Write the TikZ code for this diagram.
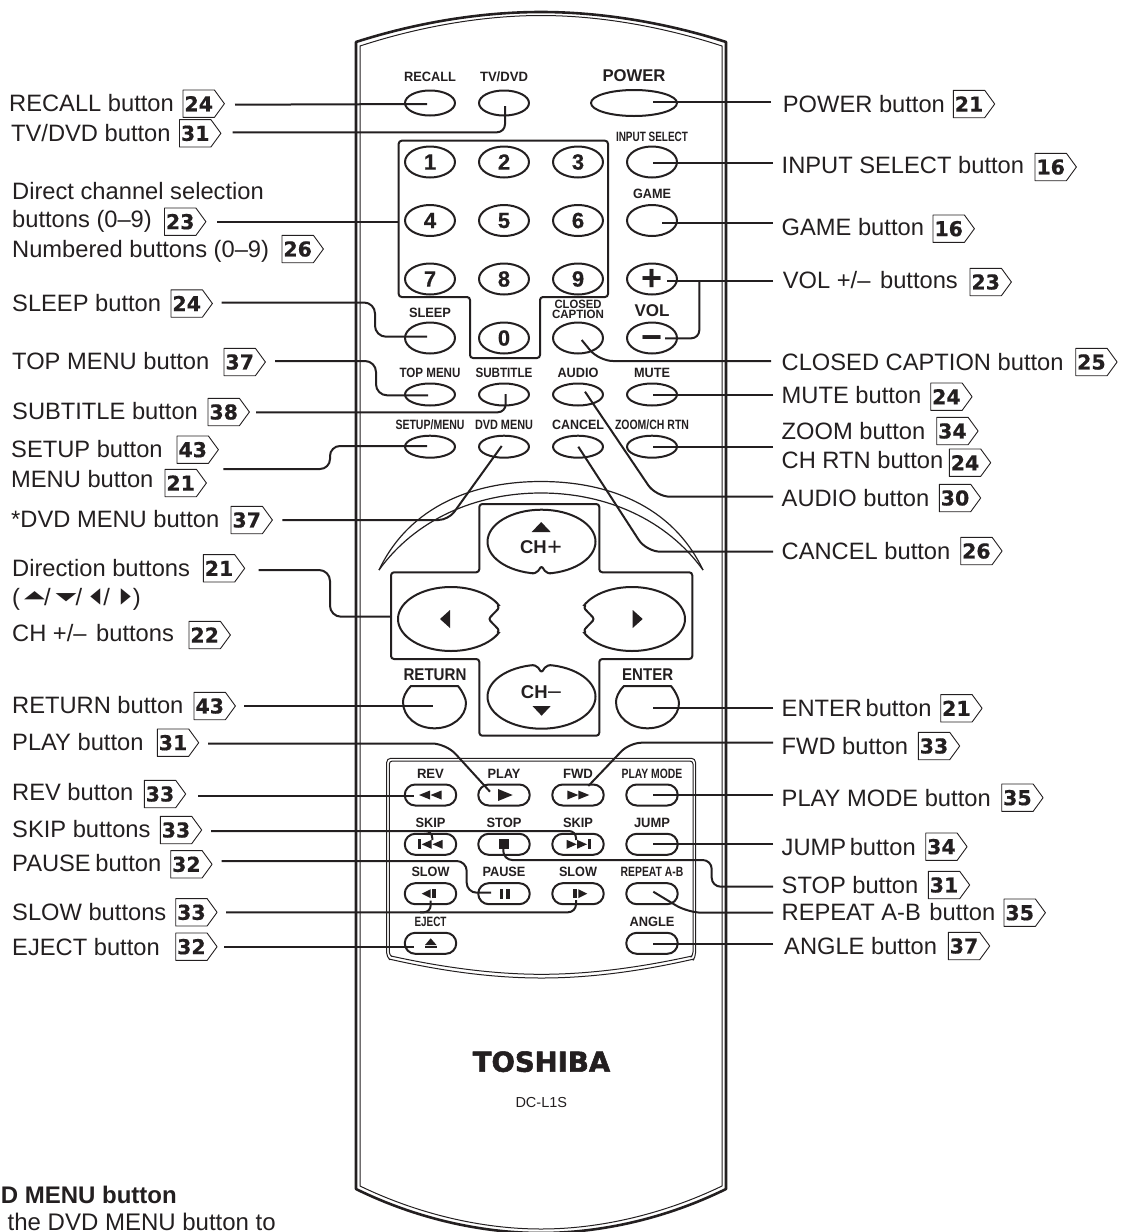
\documentclass[tikz,border=0pt]{standalone}
\usepackage{fontspec}
\usepackage{graphicx}
\usetikzlibrary{shapes.geometric}
\setmainfont{Liberation Sans}
\newfontfamily\dejavu{DejaVu Sans}
\newfontfamily\refbold[FakeBold=0.6]{DejaVu Sans Bold}
\newfontfamily\brandbold[FakeBold=2]{DejaVu Sans Bold}
\newfontfamily\digitbold[FakeBold=0.5]{Liberation Sans Bold}
\definecolor{ink}{HTML}{231F20}
\newcommand\szlabel{\fontsize{23.7}{28}\selectfont}
\newcommand\szref{\refbold\fontsize{20.5}{24}\selectfont}
\newcommand\szsmall{\bfseries\fontsize{13.5}{16}\selectfont}
\newcommand\szsmaller{\bfseries\fontsize{12}{14}\selectfont}
\newcommand\szbig{\bfseries\fontsize{17}{20}\selectfont}
\newcommand\szdigit{\digitbold\fontsize{22}{26}\selectfont}
% label text with baseline given
\newcommand\tx[4]{\node[anchor=base west,inner sep=0pt,text=ink,font=\szlabel] (#1) at (#2,#3) {#4};}
% page reference tag
\newcommand\pg[4]{\node[reftag,anchor=west] (#1) at (#2,#3) {#4};
  \draw[reftagline] (#1.north west) -- (#1.north east) -- ([xshift=10pt]#1.east) -- (#1.south east) -- (#1.south west) -- cycle;}
% small button caption: name, x, y centre of caps, width, text
\newcommand\lb[5]{\node[anchor=base,inner sep=0pt,text=ink,font=\szsmall] (#1) at (#2,{#3+4.9}) {\resizebox{#4pt}{\height}{#5}};}
\newcommand\lbs[5]{\node[anchor=base,inner sep=0pt,text=ink,font=\szsmaller] (#1) at (#2,{#3+4.2}) {\resizebox{#4pt}{\height}{#5}};}
\newcommand\lbb[5]{\node[anchor=base,inner sep=0pt,text=ink,font=\szbig] (#1) at (#2,{#3+6.1}) {\resizebox{#4pt}{\height}{#5}};}
% connector ends
\newcommand\leadends[3]{\coordinate (#1a) at (#2); \coordinate (#1b) at (#3);}
% flat glyph for the direction list
\newcommand\gl[4]{\raisebox{#4pt}{\resizebox*{#2pt}{#3pt}{\raisebox{\depth}{\dejavu #1}}}}
\begin{document}
\begin{tikzpicture}[x=1pt,y=-1pt,line join=round,
  btn/.style={ellipse,draw=ink,line width=2pt,inner sep=0pt,minimum width=50pt,text=ink,font=\szdigit},
  pill/.style={rectangle,draw=ink,line width=2pt,inner sep=0pt,minimum width=51.5pt,minimum height=21pt,rounded corners=10.5pt},
  keyline/.style={draw=ink,line width=2pt},
  bodythick/.style={draw=ink,line width=2.6pt},
  bodythin/.style={draw=ink,line width=1pt},
  arcline/.style={draw=ink,line width=1.2pt},
  lead/.style={draw=ink,line width=2pt},
  sym/.style={fill=ink},
  reftag/.style={minimum width=31pt,minimum height=27pt,inner sep=0pt,text=ink,font=\szref},
  reftagline/.style={draw=ink,line width=.9pt}]
\useasboundingbox (0,0) rectangle (1125,1232);

% --- remote body
\draw[bodythick] (541,12) .. controls (480,12) and (415,23) .. (356,42) -- (356,1189)
  .. controls (415,1218) and (480,1233) .. (541,1233) .. controls (602,1233) and (667,1218) .. (726,1189)
  -- (726,42) .. controls (667,23) and (602,12) .. (541,12) -- cycle;
\draw[bodythin] (360,46) .. controls (418,27) and (482,15.5) .. (541,15.5) .. controls (600,15.5) and (664,27) .. (722,46)
  -- (722,1186) .. controls (664,1214) and (600,1229) .. (541,1229) .. controls (482,1229) and (418,1214) .. (360,1186) -- cycle;

% --- keypad frame
\draw[keyline,rounded corners=3pt] (398.7,140.7) -- (608,140.7) -- (608,297) -- (540,297) -- (540,358) -- (470,358) -- (470,297) -- (398.7,297) -- cycle;

% --- top row
\node[btn,minimum height=25pt] (bRecall) at (430,103) {};
\node[btn,minimum height=25pt] (bTvdvd) at (504,103) {};
\node[btn,minimum width=86pt,minimum height=26pt] (bPower) at (634,103) {};
\lb{cRecall}{430}{77}{52}{RECALL}
\lb{cTvdvd}{504}{77}{48}{TV/DVD}
\lbb{cPower}{634}{75.7}{63}{POWER}

% --- number keys
\foreach \nm/\dg/\cx/\cy in {n1/1/430/162,n2/2/504/162,n3/3/578/162,n4/4/430/220.5,n5/5/504/220.5,n6/6/578/220.5,n7/7/430/279,n8/8/504/279,n9/9/578/279,n0/0/504/338}
  {\node[btn,minimum height=31pt] (\nm) at (\cx,\cy) {\dg};}
\node[btn,minimum height=31pt] (bInput) at (652,162) {};
\node[btn,minimum height=31pt] (bGame) at (652,220.5) {};
\node[btn,minimum height=31pt] (bVolUp) at (652,279) {};
\node[btn,minimum height=31pt] (bVolDn) at (652,338) {};
\node[btn,minimum height=31pt] (bSleep) at (430,338) {};
\node[btn,minimum height=31pt] (bCC) at (578,338) {};
\node[anchor=base,inner sep=0pt,text=ink,font=\bfseries\fontsize{36}{38}\selectfont] (tPlus) at (652,290.6) {+};
\node[anchor=base,inner sep=0pt,text=ink,font=\bfseries\fontsize{36}{38}\selectfont] (tMinus) at (652,349.6) {−};
\lb{cInput}{652}{137}{72}{INPUT SELECT}
\lb{cGame}{652}{194}{38}{GAME}
\lb{cSleep}{430}{312.7}{42}{SLEEP}
\lbs{cClosed}{578}{303.8}{47}{CLOSED}
\lbs{cCaption}{578}{314}{52}{CAPTION}
\lbb{cVol}{652}{310}{35}{VOL}

% --- menu rows
\foreach \nm/\cx/\cy in {bTop/430/394.5,bSub/504/394.5,bAudio/578/394.5,bMute/652/394.5,bSetup/430/446.7,bDvd/504/446.7,bCancel/578/446.7,bZoom/652/446.7}
  {\node[btn,minimum height=22pt] (\nm) at (\cx,\cy) {};}
\lb{cTop}{430}{373}{61}{TOP MENU}
\lb{cSub}{504}{373}{57}{SUBTITLE}
\lb{cAudio}{578}{373}{41}{AUDIO}
\lb{cMute}{652}{373}{36}{MUTE}
\lb{cSetup}{430}{425}{69}{SETUP/MENU}
\lb{cDvd}{504}{425}{58}{DVD MENU}
\lb{cCancel}{578}{425}{52}{CANCEL}
\lb{cZoom}{652}{425}{74}{ZOOM/CH RTN}

% --- arcs above the direction pad
\draw[arcline] (379,570) .. controls (410,505) and (475,481.5) .. (541,481.5) .. controls (607,481.5) and (672,505) .. (703,570);
\draw[arcline] (379,570) .. controls (415,520) and (475,493) .. (541,493) .. controls (607,493) and (667,520) .. (703,570);

% --- direction pad frame
\draw[keyline,fill=white,rounded corners=3pt] (479.3,504) -- (599.3,504) -- (599.3,572.3) -- (692.3,572.3) -- (692.3,659) -- (599.3,659) -- (599.3,735.7) -- (479.3,735.7) -- (479.3,659) -- (391,659) -- (391,572.3) -- (479.3,572.3) -- cycle;

% --- direction buttons
\node[btn,minimum width=108pt,minimum height=64pt] (bUp) at (541.5,541.7) {};
\fill[white] (531.5,577) -- (551.5,577) -- (550.5,573.25) -- (541.5,565.5) -- (532.5,573.25) -- cycle;
\draw[keyline,rounded corners=2pt] (532,573.5) -- (537,572.6) -- (541.5,566) -- (546,572.6) -- (551,573.5);
\node[btn,minimum width=108pt,minimum height=64pt] (bDown) at (541.5,696.7) {};
\fill[white] (531.5,661.5) -- (551.5,661.5) -- (550.5,665.15) -- (541.5,673) -- (532.5,665.15) -- cycle;
\draw[keyline,rounded corners=2pt] (532,665) -- (537,666) -- (541.5,672.5) -- (546,666) -- (551,665);
\node[btn,minimum width=106pt,minimum height=64pt] (bLeft) at (451,619) {};
\fill[white] (499.5,606.1) -- (489,619) -- (499.5,631.9) -- (506,631.9) -- (506,606.1) -- cycle;
\draw[keyline,rounded corners=2.5pt] (498.5,606.5) -- (499.5,607.5) -- (488.5,619) -- (499.5,630.5) -- (498.5,631.5);
\node[btn,minimum width=106pt,minimum height=64pt] (bRight) at (632,619) {};
\fill[white] (583.5,606.1) -- (594,619) -- (583.5,631.9) -- (577,631.9) -- (577,606.1) -- cycle;
\draw[keyline,rounded corners=2.5pt] (584.5,606.5) -- (583.5,607.5) -- (594.5,619) -- (583.5,630.5) -- (584.5,631.5);
\fill[sym] (531.7,532) -- (550.7,532) -- (541.2,522) -- cycle;
\fill[sym] (532.5,706) -- (550.7,706) -- (541.6,715.7) -- cycle;
\fill[sym] (450,610) -- (450,628) -- (440,619) -- cycle;
\fill[sym] (632.7,610) -- (632.7,628) -- (642.7,619) -- cycle;
\node[anchor=base,inner sep=0pt,text=ink,font=\fontsize{18.5}{22}\selectfont] (tChUp) at (541,553.5) {\bfseries CH\hspace{.5pt}\mdseries\raisebox{-1.5pt}{\fontsize{25}{26}\selectfont +}};
\node[anchor=base,inner sep=0pt,text=ink,font=\fontsize{18.5}{22}\selectfont] (tChDn) at (541,698.5) {\bfseries CH\hspace{.5pt}\mdseries\fontsize{23}{26}\selectfont –};

% --- return and enter
\draw[keyline] (411,686) -- (458,686) .. controls (463,692) and (466,699) .. (466,703) .. controls (466,717) and (452,728.3) .. (434.5,728.3) .. controls (417,728.3) and (403,717) .. (403,702) .. controls (403,698) and (405,692) .. (411,686) -- cycle;
\draw[keyline] (624,686) -- (671,686) .. controls (676,692) and (679,699) .. (679,703) .. controls (679,717) and (665,728.3) .. (647.5,728.3) .. controls (630,728.3) and (616,717) .. (616,702) .. controls (616,698) and (618,692) .. (624,686) -- cycle;
\lbb{cReturn}{435}{674}{63}{RETURN}
\lbb{cEnter}{647.7}{674}{51}{ENTER}

% --- lower panel
\draw[bodythin] (389,959) .. controls (450,973) and (500,978) .. (541.5,978) .. controls (583,978) and (633,973) .. (694,959)
  [rounded corners=4pt] -- (695.5,957) -- (695.5,758.3) -- (386.7,758.3) -- (386.7,957) -- (389,959);
\draw[bodythin] (391,956) .. controls (450,969) and (500,974.3) .. (541.5,974.3) .. controls (583,974.3) and (633,969) .. (692,956)
  [rounded corners=3pt] -- (693,955) -- (693,761) -- (389.3,761) -- (389.3,955) -- (391,956);

\foreach \nm/\cx/\cy in {bRev/430.5/795,bPlay/504/795,bFwd/578/795,bMode/652/795,bSkipL/430.5/844.3,bStop/504/844.3,bSkipR/578/844.3,bJump/652/844.3,bSlowL/430.5/893.7,bPause/504/893.7,bSlowR/578/893.7,bRepeat/652/893.7,bEject/430.5/943.3,bAngle/652/943.3}
  {\node[pill] (\nm) at (\cx,\cy) {};}
\lb{cRev}{430.5}{773.3}{27}{REV}
\lb{cPlay}{504}{773.3}{33}{PLAY}
\lb{cFwd}{578}{773.3}{30}{FWD}
\lb{cMode}{652}{773.3}{60.7}{PLAY MODE}
\lb{cSkipL}{430.5}{822.3}{30}{SKIP}
\lb{cStop}{504}{822.3}{35}{STOP}
\lb{cSkipR}{578}{822.3}{30}{SKIP}
\lb{cJump}{652}{822.3}{36}{JUMP}
\lb{cSlowL}{430.5}{871.7}{38}{SLOW}
\lb{cPause}{504}{871.7}{43}{PAUSE}
\lb{cSlowR}{578}{871.7}{38}{SLOW}
\lb{cRepeat}{652}{871.7}{62.7}{REPEAT A-B}
\lb{cEject}{430.5}{921.7}{32}{EJECT}
\lb{cAngle}{652}{921.7}{45}{ANGLE}

% button symbols
\fill[sym] (430,790.5) -- (430,799.5) -- (419,795) -- cycle;
\fill[sym] (441.5,790.5) -- (441.5,799.5) -- (430.5,795) -- cycle;
\fill[sym] (498,789) -- (498,801) -- (512.7,795) -- cycle;
\fill[sym] (567.3,790.5) -- (567.3,799.5) -- (578.3,795) -- cycle;
\fill[sym] (578.3,790.5) -- (578.3,799.5) -- (589.3,795) -- cycle;
\fill[sym] (418.3,839.3) rectangle (420.7,849.3);
\fill[sym] (431.5,839.8) -- (431.5,848.8) -- (421.7,844.3) -- cycle;
\fill[sym] (442.7,839.8) -- (442.7,848.8) -- (432.5,844.3) -- cycle;
\fill[sym] (566.7,839.8) -- (566.7,848.8) -- (576.7,844.3) -- cycle;
\fill[sym] (577,839.8) -- (577,848.8) -- (587,844.3) -- cycle;
\fill[sym] (588.3,839.3) rectangle (590.7,849.3);
\fill[sym] (499,839.3) rectangle (509.3,849.3);
\fill[sym] (500,889) rectangle (503.3,898.7);
\fill[sym] (505.7,889) rectangle (510,898.7);
\fill[sym] (430.7,889.2) -- (430.7,898.2) -- (421.7,893.7) -- cycle;
\fill[sym] (432.3,889) rectangle (435.7,898.4);
\fill[sym] (573.3,889) rectangle (576.7,898.4);
\fill[sym] (578.3,889.2) -- (578.3,898.2) -- (587.3,893.7) -- cycle;
\fill[sym] (425,945) -- (436.5,945) -- (430.7,938.3) -- cycle;
\fill[sym] (425,946.2) rectangle (436.5,947.9);

% --- brand
\node[anchor=base,inner sep=0pt,text=ink,font=\brandbold\fontsize{27.5}{30}\selectfont] (brand) at (541.5,1071.7) {TOSHIBA};
\node[anchor=base,inner sep=0pt,text=ink,font=\fontsize{14.5}{17}\selectfont] (model) at (541.3,1107.7) {DC-L1S};

% --- left labels
\tx{lRecall}{9}{111}{RECALL button}  \pg{pRecall}{183}{103.7}{24}
\tx{lTvdvd}{11}{141}{TV/DVD button}  \pg{pTvdvd}{179.5}{133.3}{31}
\tx{lDirect}{12}{199}{Direct channel selection}
\tx{lBtn}{12}{227.7}{buttons (0–9)}  \pg{pBtn}{164.5}{221.7}{23}
\tx{lNum}{12}{257}{Numbered buttons (0–9)}  \pg{pNum}{282}{249}{26}
\tx{lSleep}{12}{311}{SLEEP button}  \pg{pSleep}{171}{303.5}{24}
\tx{lTop}{12}{369}{TOP MENU button}  \pg{pTop}{224}{362}{37}
\tx{lSub}{12}{419.5}{SUBTITLE button}  \pg{pSub}{208}{412}{38}
\tx{lSetup}{11}{457}{SETUP button}  \pg{pSetup}{177}{449.7}{43}
\tx{lMenu}{11}{487}{MENU button}  \pg{pMenu}{165}{483}{21}
\tx{lDvd}{11}{527}{*DVD MENU button}  \pg{pDvd}{231}{520}{37}
\tx{lDir}{12}{576}{Direction buttons}  \pg{pDir}{203.3}{568.3}{21}
\tx{lArrows}{12}{605}{(\hspace{4pt}\gl{▲}{21}{8.3}{5}\hspace{-1pt}/\hspace{5pt}\gl{▼}{21}{8.3}{2.7}\hspace{-1pt}/\hspace{8pt}\gl{◀}{10}{16.4}{0}\hspace{3pt}/\hspace{11pt}\gl{▶}{10}{16.4}{0}\hspace{2pt})}
\tx{lCh}{12}{641.7}{CH +/–\hspace{3pt} buttons}  \pg{pCh}{189}{635}{22}
\tx{lReturn}{12}{713.3}{RETURN button}  \pg{pReturn}{194}{706}{43}
\tx{lPlay}{12}{750}{PLAY button}  \pg{pPlay}{157.3}{742.7}{31}
\tx{lRev}{12}{800.7}{REV button}  \pg{pRev}{144.3}{794}{33}
\tx{lSkip}{12}{837.3}{SKIP buttons}  \pg{pSkip}{160.3}{830}{33}
\tx{lPause}{12}{871.7}{PAUSE\hspace{-2pt} button}  \pg{pPause}{170.7}{864.3}{32}
\tx{lSlow}{12}{920}{SLOW buttons}  \pg{pSlow}{175.7}{912.3}{33}
\tx{lEject}{12}{955}{EJECT button}  \pg{pEject}{175.7}{946.7}{32}

% --- right labels
\tx{rPower}{782.7}{112.3}{POWER button}  \pg{qPower}{953.3}{104}{21}
\tx{rInput}{781.5}{173}{INPUT SELECT button}  \pg{qInput}{1035}{167}{16}
\tx{rGame}{781.5}{235}{GAME button}  \pg{qGame}{933}{228.7}{16}
\tx{rVol}{782.7}{288}{VOL +/–\hspace{3pt} buttons}  \pg{qVol}{970}{282}{23}
\tx{rCC}{781.5}{370}{CLOSED CAPTION button}  \pg{qCC}{1075.7}{362}{25}
\tx{rMute}{781.5}{403}{MUTE button}  \pg{qMute}{930.7}{396.7}{24}
\tx{rZoom}{781.5}{439}{ZOOM button}  \pg{qZoom}{936.7}{431}{34}
\tx{rRtn}{781.5}{468}{CH RTN button}  \pg{qRtn}{949.3}{462.7}{24}
\tx{rAudio}{781.5}{506}{AUDIO button}  \pg{qAudio}{939.3}{498}{30}
\tx{rCancel}{781.5}{559}{CANCEL button}  \pg{qCancel}{960.7}{551}{26}
\tx{rEnter}{781.5}{716}{ENTER\hspace{-3pt} button}  \pg{qEnter}{940.7}{708.3}{21}
\tx{rFwd}{781.5}{754}{FWD button}  \pg{qFwd}{918.3}{746}{33}
\tx{rMode}{781.5}{806}{PLAY MODE button}  \pg{qMode}{1001.7}{797.7}{35}
\tx{rJump}{781.5}{855}{JUMP\hspace{-3pt} button}  \pg{qJump}{925.7}{846.7}{34}
\tx{rStop}{781.5}{893}{STOP button}  \pg{qStop}{928.3}{885}{31}
\tx{rRepeat}{781.5}{920.7}{REPEAT A-B\hspace{2pt} button}  \pg{qRepeat}{1004}{912.7}{35}
\tx{rAngle}{784}{954}{ANGLE button}  \pg{qAngle}{948.3}{946}{37}

% --- footnote, as far as the page shows it
\node[anchor=base east,inner sep=0pt,text=ink,font=\bfseries\fontsize{24}{28}\selectfont] (noteA) at (177,1203) {D MENU button};
\node[anchor=base east,inner sep=0pt,text=ink,font=\fontsize{24}{28}\selectfont] (noteB) at (276,1230) {the DVD MENU button to};

% --- connector ends
\leadends{a1}{235,104.7}{427,104}
\leadends{a2}{232.7,132.3}{505,106}
\leadends{a3}{217.3,222.3}{398.7,222.3}
\leadends{a4}{221.7,302.5}{427,336.7}
\leadends{a5}{275,361}{428,395.3}
\leadends{a6}{256,412.3}{505.7,394}
\leadends{a7}{223.3,469}{427,446}
\leadends{a8}{282.3,520}{501.7,446}
\leadends{a9}{258.7,570}{391,616.7}
\leadends{a10}{244.3,706}{433.3,706}
\leadends{a11}{208,743.5}{490,791.7}
\leadends{a12}{198,796}{414,796}
\leadends{a13}{211,831}{576,840}
\coordinate (a13c) at (432.3,840);
\leadends{a14}{221.7,861}{491,892.7}
\leadends{a15}{226,912.3}{576,900}
\coordinate (a15c) at (430.7,900.7);
\leadends{a16}{224,946.7}{414,946.7}
\leadends{b1}{771,102.3}{652.7,102.3}
\leadends{b2}{773,163.3}{652.7,163.3}
\leadends{b3}{773,223.3}{661.7,223.3}
\leadends{b4}{773,280.7}{666.7,280.7}
\coordinate (b4c) at (665,338.3);
\leadends{b5}{771,361}{581.7,340}
\leadends{b6}{773,395.3}{653.3,395.3}
\leadends{b7}{773,446.7}{653.3,446.7}
\leadends{b8}{773,496.7}{585,391.7}
\leadends{b9}{773,551.7}{578.3,446.7}
\leadends{b10}{773,707.5}{652.7,707.5}
\leadends{b11}{773,742.7}{588.3,786}
\leadends{b12}{773,794.5}{652.7,794.5}
\leadends{b13}{773,844}{652.7,844}
\leadends{b14}{773,886.7}{503.3,849}
\leadends{b15}{773,912.7}{653.3,891.7}
\leadends{b16}{773,944}{652.7,944}

% --- connectors, left
\draw[lead] (a1a) -- (a1b);
\draw[lead,rounded corners=8pt] (a2a) -| (a2b);
\draw[lead] (a3a) -- (a3b);
\draw[lead,rounded corners=11pt] (a4a) -- (375,302.5) -- (375,336.7) -- (a4b);
\draw[lead,rounded corners=11pt] (a5a) -- (376,361) -- (376,395.3) -- (a5b);
\draw[lead,rounded corners=8pt] (a6a) -| (a6b);
\draw[lead,rounded corners=10pt] (a7a) -- (330,469) -- (330,446) -- (a7b);
\draw[lead,rounded corners=10pt] (a8a) -- (448.4,520) -- (a8b);
\draw[lead,rounded corners=11pt] (a9a) -- (330,570) -- (330,616.7) -- (a9b);
\draw[lead] (a10a) -- (a10b);
\draw[lead,rounded corners=14pt] (a11a) -- (446,743.5) -- (a11b);
\draw[lead] (a12a) -- (a12b);
\draw[lead,rounded corners=7pt] (a13a) -| (a13b);
\draw[lead,rounded corners=7pt] (424,831) -- (432.3,831) -- (a13c);
\draw[lead,rounded corners=10pt] (a14a) -- (466.7,861) -- (466.7,892.7) -- (a14b);
\draw[lead,rounded corners=8pt] (a15a) -| (a15b);
\draw[lead,rounded corners=7pt] (420,912.3) -- (430.7,912.3) -- (a15c);
\draw[lead] (a16a) -- (a16b);

% --- connectors, right
\draw[lead] (b1a) -- (b1b);
\draw[lead] (b2a) -- (b2b);
\draw[lead] (b3a) -- (b3b);
\draw[lead] (b4a) -- (b4b);
\draw[lead,rounded corners=8pt] (699.3,280.7) -- (699.3,338.3) -- (b4c);
\draw[lead,rounded corners=14pt] (b5a) -- (599,361) -- (b5b);
\draw[lead] (b6a) -- (b6b);
\draw[lead] (b7a) -- (b7b);
\draw[lead,rounded corners=14pt] (b8a) -- (656,496.7) -- (b8b);
\draw[lead,rounded corners=14pt] (b9a) -- (646.4,551.7) -- (b9b);
\draw[lead] (b10a) -- (b10b);
\draw[lead,rounded corners=12pt] (b11a) -- (629.6,742.7) -- (b11b);
\draw[lead] (b12a) -- (b12b);
\draw[lead] (b13a) -- (b13b);
\draw[lead,rounded corners=9pt] (b14a) -- (711.7,886.7) -- (711.7,860) -- (503.3,860) -- (b14b);
\draw[lead,rounded corners=14pt] (b15a) -- (688,912.7) -- (b15b);
\draw[lead] (b16a) -- (b16b);
\end{tikzpicture}
\end{document}
